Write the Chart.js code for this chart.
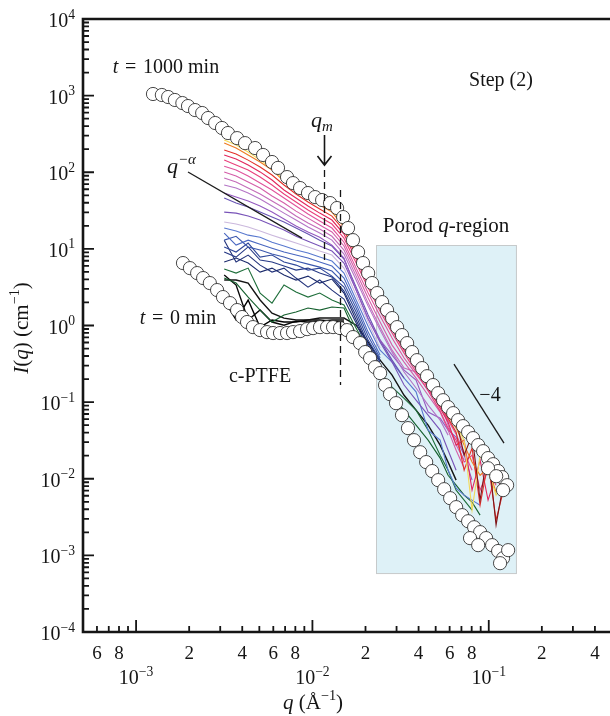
<!DOCTYPE html>
<html lang="en">
<head>
<meta charset="UTF-8">
<title>I(q) during step (2)</title>
<script src="https://cdn.jsdelivr.net/npm/chart.js"></script>
<style>
  html, body { margin: 0; padding: 0; background: #fff; }
</style>
</head>
<body>
<canvas id="saxs" width="610" height="716"></canvas>
<script>
// t = 1000 min (open circles, upper)
const qEnd = [0.001247, 0.0014, 0.00152, 0.00166, 0.00183, 0.00197, 0.00216, 0.00237, 0.00256, 0.00281,
  0.00307, 0.00332, 0.00374, 0.00415, 0.00473, 0.00525, 0.0059, 0.00638, 0.00718, 0.00776,
  0.00851, 0.00944, 0.01035, 0.01135, 0.01259, 0.0138, 0.01493, 0.01592, 0.01698, 0.01815,
  0.01936, 0.0207, 0.02178, 0.02328, 0.02483, 0.02649, 0.02831, 0.0302, 0.03221, 0.03443,
  0.03673, 0.03917, 0.04188, 0.04467, 0.04831, 0.05164, 0.05508, 0.05875, 0.06281, 0.06699,
  0.07145, 0.07638, 0.08147, 0.0871, 0.0929, 0.09908, 0.1059, 0.113, 0.1191, 0.1271,
  0.099, 0.1102, 0.1205];
const iEnd = [1050, 1019, 959, 877, 800, 731, 648, 593, 510, 439,
  378, 325, 279, 240, 207, 168, 136, 114, 86.5, 72.2,
  62.2, 53.5, 47.4, 43.4, 39.6, 34.1, 26.0, 18.7, 13.0, 9.08,
  6.53, 4.83, 3.58, 2.65, 2.02, 1.59, 1.25, 0.953, 0.75, 0.589,
  0.45, 0.353, 0.278, 0.218, 0.167, 0.131, 0.106, 0.0861, 0.0718, 0.0582,
  0.0486, 0.0406, 0.0339, 0.0275, 0.0229, 0.0186, 0.0155, 0.0126, 0.0105, 0.00824,
  0.01374, 0.0108, 0.0071];

// t = 0 min, c-PTFE (open circles, lower)
const qStart = [0.001845, 0.00202, 0.00222, 0.0024, 0.00262, 0.00288, 0.00311, 0.00341, 0.00374, 0.00399,
  0.00426, 0.0046, 0.00505, 0.00553, 0.00598, 0.00655, 0.00718, 0.00776, 0.00851, 0.00933,
  0.01009, 0.01104, 0.01211, 0.01309, 0.01435, 0.0157, 0.01698, 0.01862, 0.01991, 0.02123,
  0.02265, 0.02421, 0.02582, 0.02754, 0.02979, 0.03221, 0.03483, 0.03767, 0.04083, 0.04416,
  0.04775, 0.05164, 0.05585, 0.06039, 0.06531, 0.07063, 0.07638, 0.0826, 0.08933, 0.0966,
  0.1045, 0.113, 0.1205, 0.1288, 0.1159, 0.0783, 0.0871];
const iStart = [6.53, 5.61, 4.83, 4.16, 3.58, 2.90, 2.35, 1.96, 1.59, 1.29,
  1.11, 0.953, 0.871, 0.820, 0.797, 0.797, 0.797, 0.820, 0.845, 0.897,
  0.925, 0.953, 0.953, 0.953, 0.925, 0.871, 0.706, 0.589, 0.450, 0.375,
  0.286, 0.239, 0.167, 0.127, 0.097, 0.0676, 0.0458, 0.0319, 0.0222, 0.0165,
  0.0126, 0.00959, 0.00731, 0.00558, 0.00426, 0.00335, 0.00279, 0.00233, 0.00201, 0.00168,
  0.00136, 0.00114, 0.000918, 0.00117, 0.000791, 0.00168, 0.00136];

// q points shared by the intermediate time curves
const qGrid = [0.00316, 0.00369, 0.00432, 0.00505, 0.0059, 0.0069, 0.00807, 0.00944, 0.0110, 0.0129,
  0.0151, 0.0177, 0.0207, 0.0242, 0.0283, 0.0331, 0.0387, 0.0453, 0.0530, 0.0588,
  0.0653, 0.0725, 0.0804, 0.0893, 0.0991, 0.110, 0.122];

// intermediate curves, latest (top) first
const curveColors = ['#7d1418', '#f3d95a', '#ef7b22', '#e3302a', '#e2265c', '#e9407c', '#e0539c', '#d45ea9',
  '#c46bb9', '#b474c6', '#9459c0', '#7853b8', '#6753b3', '#cbb8dd', '#5878cf', '#4866c0', '#3b57ad',
  '#30489a', '#263985', '#1c2b6c', '#22327a', '#1e6e3a', '#15602e', '#141414', '#000000', '#0a0a0a'];
const curves = [
  [306, 263, 207, 168, 124, 91.9, 64.1, 50.4, 43.4, 35.1, 22.4, 9.65, 4.41, 2.15, 1.18, 0.644, 0.353, 0.194, 0.112, 0.0787, 0.0582, 0.0203, 0.0371, 0.00526, 0.0236, 0.00248, 0.00959],
  [263, 226, 184, 144, 113, 79.1, 58.6, 47.5, 39.7, 32.1, 20.5, 9.09, 4.16, 2.03, 1.11, 0.607, 0.333, 0.183, 0.106, 0.0741, 0.0501, 0.0319, 0.00389, 0.0203, 0.0129, 0.00611, 0.0101],
  [240, 207, 168, 136, 107, 76.7, 56.8, 44.7, 37.3, 30.2, 19.3, 8.82, 3.92, 1.91, 1.05, 0.571, 0.313, 0.172, 0.0999, 0.0676, 0.0458, 0.0275, 0.0165, 0.0111, 0.0138, 0.00669, 0.00824],
  [195, 173, 144, 117, 91.9, 68.1, 52.0, 40.9, 33.1, 26.8, 17.6, 8.05, 3.69, 1.79, 0.951, 0.523, 0.286, 0.162, 0.0914, 0.0618, 0.0406, 0.0129, 0.0251, 0.00452, 0.0165, 0.00288, 0.00753],
  [168, 149, 124, 101, 79.1, 58.6, 46.1, 36.2, 29.3, 23.8, 15.6, 7.36, 3.37, 1.69, 0.871, 0.477, 0.270, 0.153, 0.0835, 0.0548, 0.0275, 0.0319, 0.0071, 0.0175, 0.00526, 0.0111, 0.00611],
  [144, 124, 107, 86.6, 68.1, 52.0, 40.9, 32.1, 26.0, 21.1, 13.8, 6.53, 3.08, 1.54, 0.796, 0.436, 0.247, 0.140, 0.0763, 0.0458, 0.0319, 0.0165, 0.0203, 0.0071, 0.0129, 0.00824],
  [120, 107, 89.1, 72.3, 58.6, 46.1, 36.2, 28.5, 23.1, 18.7, 12.2, 5.61, 2.65, 1.33, 0.686, 0.376, 0.232, 0.144, 0.0887, 0.0582, 0.0382, 0.0222, 0.0129],
  [101, 89.1, 74.5, 62.2, 48.9, 39.7, 31.1, 25.2, 20.5, 16.6, 10.9, 4.98, 2.28, 1.11, 0.555, 0.333, 0.206, 0.123, 0.0741, 0.0431, 0.0236, 0.0138],
  [84.0, 74.5, 62.2, 52.0, 42.1, 34.1, 26.8, 21.8, 18.2, 14.6, 9.65, 4.41, 1.96, 0.951, 0.477, 0.278, 0.247, 0.194, 0.106, 0.0501, 0.0275, 0.0175],
  [68.1, 62.2, 53.6, 44.7, 36.2, 29.3, 23.8, 19.3, 16.1, 13.0, 8.56, 3.92, 1.79, 0.871, 0.449, 0.247, 0.153, 0.0914, 0.0582, 0.0371],
  [53.6, 47.5, 42.1, 36.2, 30.2, 24.5, 19.9, 16.6, 14.2, 11.2, 7.59, 2.90, 1.22, 0.644, 0.411, 0.262, 0.194, 0.0741, 0.0618, 0.0431, 0.0349, 0.0203, 0.00959],
  [30.2, 29.3, 26.8, 23.8, 20.5, 17.6, 14.6, 12.6, 10.9, 9.36, 6.53, 2.90, 1.22, 0.607, 0.333, 0.167, 0.106, 0.0676, 0.0431, 0.0236, 0.0129],
  [46.1, 39.7, 35.1, 30.2, 26.0, 22.4, 18.7, 15.6, 13.0, 10.9, 7.36, 3.17, 1.37, 0.644, 0.353, 0.206],
  [22.4, 21.1, 19.3, 17.1, 15.1, 13.4, 11.9, 10.6, 9.36, 8.30, 5.61, 2.49, 1.11, 0.507],
  [18.7, 17.1, 15.1, 14.2, 12.2, 10.9, 9.65, 8.82, 7.82, 6.93, 4.83, 2.15, 0.980, 0.477, 0.333, 0.206, 0.136, 0.0431, 0.0319, 0.0129, 0.00753, 0.00611, 0.00526, 0.00452],
  [16.1, 11.2, 13.0, 11.5, 10.2, 9.09, 8.30, 7.59, 6.73, 5.96, 4.16, 1.91, 0.820, 0.411],
  [13.0, 14.6, 10.6, 9.65, 8.56, 7.82, 6.93, 6.33, 5.78, 5.13, 3.58, 1.69, 0.728, 0.376],
  [10.6, 9.09, 11.9, 7.82, 8.30, 6.73, 6.14, 5.29, 5.61, 4.41, 3.17, 1.50, 0.644, 0.353],
  [9.09, 7.82, 10.6, 7.14, 6.73, 5.96, 5.29, 5.61, 4.83, 4.29, 2.81, 1.33, 0.571, 0.333],
  [6.73, 7.59, 6.53, 4.98, 5.61, 4.55, 3.92, 4.41, 3.58, 4.04, 2.65, 1.18, 0.538, 0.304],
  [13.0, 6.73, 8.30, 6.14, 4.98, 5.61, 4.16, 3.17, 3.92, 2.90, 2.21, 1.08, 0.477, 0.278],
  [5.45, 4.83, 5.61, 2.65, 1.96, 3.37, 2.73, 2.35, 2.65, 2.15, 1.85, 0.923, 0.477, 0.247, 0.157, 0.112, 0.0787, 0.0431, 0.0203, 0.0129, 0.0071, 0.00526, 0.00389],
  [4.16, 3.58, 2.35, 1.59, 1.11, 1.37, 1.50, 1.69, 1.59, 1.74, 1.69, 0.75, 0.376, 0.206, 0.123, 0.0787, 0.0501, 0.0319, 0.0186, 0.0111, 0.00824, 0.00611, 0.00495, 0.00335],
  [3.92, 3.92, 3.58, 2.15, 1.45, 1.25, 1.18, 1.18, 1.25, 1.25, 1.25, 1.01, 0.607, 0.353, 0.225, 0.123, 0.0787, 0.0501, 0.0275, 0.0165, 0.00959],
  [2.15, 1.18, 2.15, 0.951, 1.18, 1.11, 1.11, 1.18, 1.18, 1.14, 1.11],
  [4.55, 3.37, 1.18, 1.59, 1.11, 1.01, 1.14, 1.11, 1.14, 1.18, 1.18]
];

// guide lines and markers (data coordinates)
const alphaLineQ = [0.00197, 0.00873];
const alphaLineI = [100.7, 13.8];
const porodLineQ = [0.0635, 0.122];
const porodLineI = [0.313, 0.0292];
const porodBoxQ = [0.023, 0.143];
const porodBoxI = [0.000586, 11.2];
const qmQ = 0.01164;
const qmDashI = [107, 7.14];
const qmArrowI = [306, 124];
const q2Q = 0.01436;
const q2DashI = [58.6, 0.167];

// axis ticks
const yDecades = [-4, -3, -2, -1, 0, 1, 2, 3, 4];
const xDecades = [-3, -2, -1];
const xDigitQ = [6e-4, 8e-4, 2e-3, 4e-3, 6e-3, 8e-3, 0.02, 0.04, 0.06, 0.08, 0.2, 0.4];
const xDigitText = ['6', '8', '2', '4', '6', '8', '2', '4', '6', '8', '2', '4'];

const serif = '"Liberation Serif", "DejaVu Serif", serif';
const ink = '#151515';

function rich(ctx, parts, x, y, size, align) {
  const fontFor = s => {
    const it = s.indexOf('i') >= 0 ? 'italic ' : '';
    const small = s.indexOf('sup') >= 0 || s.indexOf('sub') >= 0;
    return it + (small ? size * 0.68 : size) + 'px ' + serif;
  };
  let w = 0;
  parts.forEach(([t, s]) => { ctx.font = fontFor(s); w += ctx.measureText(t).width; });
  let cx = align === 'center' ? x - w / 2 : align === 'right' ? x - w : x;
  ctx.textAlign = 'left';
  ctx.textBaseline = 'alphabetic';
  parts.forEach(([t, s]) => {
    ctx.font = fontFor(s);
    const dy = s.indexOf('sup') >= 0 ? -size * 0.42 : s.indexOf('sub') >= 0 ? size * 0.18 : 0;
    ctx.fillText(t, cx, y + dy);
    cx += ctx.measureText(t).width;
  });
}

function expText(e) {
  return e < 0 ? '\u2212' + (-e) : String(e);
}

const frame = {
  id: 'frame',
  beforeDatasetsDraw(chart) {
    const { ctx } = chart;
    const xs = chart.scales.x, ys = chart.scales.y;
    const x0 = xs.getPixelForValue(porodBoxQ[0]), x1 = xs.getPixelForValue(porodBoxQ[1]);
    const y0 = ys.getPixelForValue(porodBoxI[1]), y1 = ys.getPixelForValue(porodBoxI[0]);
    ctx.save();
    ctx.fillStyle = '#def1f7';
    ctx.fillRect(x0, y0, x1 - x0, y1 - y0);
    ctx.strokeStyle = '#c6cacb';
    ctx.lineWidth = 1;
    ctx.strokeRect(Math.round(x0) + 0.5, Math.round(y0) + 0.5, x1 - x0, y1 - y0);
    ctx.restore();
  },
  afterDraw(chart) {
    const { ctx, chartArea: a } = chart;
    const xs = chart.scales.x, ys = chart.scales.y;
    ctx.save();
    ctx.strokeStyle = ink;
    ctx.fillStyle = ink;

    // dashed markers
    ctx.lineWidth = 1.3;
    ctx.setLineDash([7, 5]);
    ctx.beginPath();
    const xm = Math.round(xs.getPixelForValue(qmQ)) + 0.5;
    ctx.moveTo(xm, ys.getPixelForValue(qmDashI[0]));
    ctx.lineTo(xm, ys.getPixelForValue(qmDashI[1]));
    const x2 = Math.round(xs.getPixelForValue(q2Q)) + 0.5;
    ctx.moveTo(x2, ys.getPixelForValue(q2DashI[0]));
    ctx.lineTo(x2, ys.getPixelForValue(q2DashI[1]));
    ctx.stroke();
    ctx.setLineDash([]);

    // q_m arrow
    const ya = ys.getPixelForValue(qmArrowI[0]), yb = ys.getPixelForValue(qmArrowI[1]);
    ctx.lineWidth = 1.6;
    ctx.beginPath();
    ctx.moveTo(xm, ya); ctx.lineTo(xm, yb);
    ctx.moveTo(xm - 7, yb - 9); ctx.lineTo(xm, yb); ctx.lineTo(xm + 7, yb - 9);
    ctx.stroke();

    // annotation texts
    rich(ctx, [['t', 'i'], ['\u2004=\u20041000 min', '']], 166, 73, 20, 'center');
    rich(ctx, [['Step (2)', '']], 501, 86, 20, 'center');
    rich(ctx, [['q', 'i'], ['m', 'isub']], 311, 127, 22, 'left');
    rich(ctx, [['q', 'i'], ['\u2212\u03B1', 'isup']], 167, 173, 22, 'left');
    rich(ctx, [['Porod ', ''], ['q', 'i'], ['-region', '']], 446, 232, 21, 'center');
    rich(ctx, [['\u22124', '']], 490, 401, 20, 'center');
    rich(ctx, [['t', 'i'], ['\u2004=\u20040 min', '']], 178, 324, 20, 'center');
    rich(ctx, [['c-PTFE', '']], 260, 382, 20, 'center');

    // axes frame
    ctx.lineWidth = 2.6;
    ctx.beginPath();
    ctx.moveTo(a.right, a.top); ctx.lineTo(a.left, a.top);
    ctx.lineTo(a.left, a.bottom); ctx.lineTo(a.right, a.bottom);
    ctx.stroke();

    // y ticks
    ctx.lineWidth = 1.8;
    ctx.beginPath();
    yDecades.forEach(e => {
      const y = ys.getPixelForValue(Math.pow(10, e));
      ctx.moveTo(a.left, y); ctx.lineTo(a.left + 11, y);
      if (e < 4) {
        for (let m = 2; m <= 9; m++) {
          const ym = ys.getPixelForValue(m * Math.pow(10, e));
          ctx.moveTo(a.left, ym); ctx.lineTo(a.left + 6, ym);
        }
      }
    });
    // x ticks
    for (let e = -4; e <= -1; e++) {
      for (let m = 1; m <= 9; m++) {
        const v = m * Math.pow(10, e);
        if (v <= 5e-4 || v > xs.max) continue;
        const x = xs.getPixelForValue(v);
        ctx.moveTo(x, a.bottom); ctx.lineTo(x, a.bottom - (m === 1 ? 12 : 6));
      }
    }
    ctx.stroke();

    yDecades.forEach(e => {
      const y = ys.getPixelForValue(Math.pow(10, e));
      rich(ctx, [['10', ''], [expText(e), 'sup']], 75, y + 8, 20, 'right');
    });
    xDigitQ.forEach((q, i) => {
      rich(ctx, [[xDigitText[i], '']], xs.getPixelForValue(q), 659, 19, 'center');
    });
    xDecades.forEach(e => {
      rich(ctx, [['10', ''], [expText(e), 'sup']], xs.getPixelForValue(Math.pow(10, e)), 684, 20, 'center');
    });

    // axis titles
    rich(ctx, [['q', 'i'], [' (\u00C5', ''], ['\u22121', 'sup'], [')', '']], 313, 709, 21, 'center');
    ctx.translate(28, 328);
    ctx.rotate(-Math.PI / 2);
    rich(ctx, [['I', 'i'], ['(', ''], ['q', 'i'], [') (cm', ''], ['\u22121', 'sup'], [')', '']], 0, 0, 21, 'center');
    ctx.restore();
  }
};

const circleStyle = {
  showLine: false,
  pointRadius: 6.6,
  pointBackgroundColor: '#ffffff',
  pointBorderColor: '#333333',
  pointBorderWidth: 0.9
};

const datasets = [
  Object.assign({ data: qEnd.map((q, i) => ({ x: q, y: iEnd[i] })) }, circleStyle),
  Object.assign({ data: qStart.map((q, i) => ({ x: q, y: iStart[i] })) }, circleStyle),
  {
    data: alphaLineQ.map((q, i) => ({ x: q, y: alphaLineI[i] })),
    showLine: true, borderColor: '#1b1b1b', borderWidth: 1.3, pointRadius: 0
  },
  {
    data: porodLineQ.map((q, i) => ({ x: q, y: porodLineI[i] })),
    showLine: true, borderColor: '#1b1b1b', borderWidth: 1.3, pointRadius: 0
  }
];
curves.forEach((vals, k) => {
  datasets.push({
    data: vals.map((v, i) => ({ x: qGrid[i], y: v })),
    showLine: true,
    borderColor: curveColors[k],
    borderWidth: k >= 23 ? 1.4 : 1.1,
    pointRadius: 0,
    tension: 0
  });
});

new Chart(document.getElementById('saxs'), {
  type: 'scatter',
  data: { datasets },
  options: {
    responsive: false,
    animation: false,
    layout: { autoPadding: false, padding: { left: 83, top: 19, right: 0, bottom: 84 } },
    plugins: { legend: { display: false }, tooltip: { enabled: false } },
    scales: {
      x: { type: 'logarithmic', min: 5e-4, max: 0.487, display: false },
      y: { type: 'logarithmic', min: 1e-4, max: 1e4, display: false }
    }
  },
  plugins: [frame]
});
</script>
</body>
</html>
